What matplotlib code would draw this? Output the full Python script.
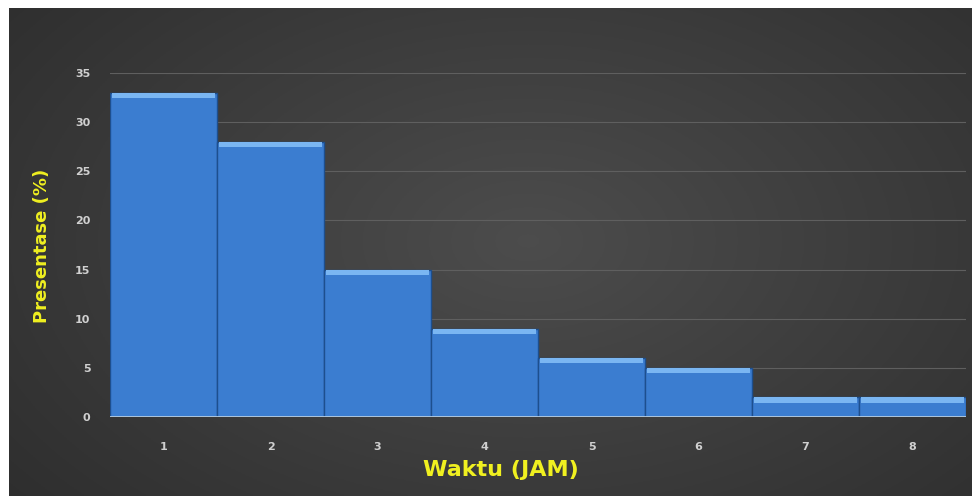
import numpy as np
import matplotlib
matplotlib.use("Agg")
import matplotlib.pyplot as plt

# lama waktu (jam) vs presentase responden
jam = [1, 2, 3, 4, 5, 6, 7, 8]
presentase = [33, 28, 15, 9, 6, 5, 2, 2]
yticks = [0, 5, 10, 15, 20, 25, 30, 35]

W, H = 972, 496
fig = plt.figure(figsize=(W / 100, H / 100), dpi=100)
fig.patch.set_facecolor("white")

############ dark radial background ######################
bg = fig.add_axes([9 / W, 0, 1 - 9 / W, 1 - 8 / H])
yy, xx = np.mgrid[0:200, 0:400]
r = np.sqrt(((xx - 215) / 280.0) ** 2 + ((yy - 95) / 170.0) ** 2)
shade = np.clip(0.30 - 0.12 * r, 0.16, 0.30)
bg.imshow(np.dstack([shade, shade, shade]), aspect="auto", extent=[0, 1, 0, 1])
bg.set_axis_off()

############ bar chart ###################################
ax = fig.add_axes([110 / W, 1 - 417 / H, (966 - 110) / W, (417 - 73) / H])
ax.patch.set_alpha(0)
ax.bar(jam, presentase, width=1.0, color="#3b7dd0", edgecolor="#1d4f8e",
       linewidth=1.0, zorder=3)
# bevelled top edge
ax.bar(jam, [0.55] * len(jam), bottom=[v - 0.55 for v in presentase], width=0.97,
       color="#7ab6f2", linewidth=0, zorder=4)

ax.set_xlim(0.5, 8.5)
ax.set_ylim(0, 35)
ax.set_yticks(yticks)
ax.set_xticks(jam)
ax.grid(axis="y", color="#5f5f5f", linewidth=0.8, zorder=0)
ax.axhline(0, color="#b8cde0", linewidth=2, zorder=5)
for s in ax.spines.values():
    s.set_visible(False)
ax.tick_params(length=0, colors="#d0d0d0", labelsize=8)
ax.tick_params(axis="y", pad=14)
ax.tick_params(axis="x", pad=18)
for lab in ax.get_xticklabels() + ax.get_yticklabels():
    lab.set_fontweight("bold")

fig.text(0.515, 0.052, "Waktu (JAM)", color="#f0f020", fontsize=16,
         fontweight="bold", ha="center", va="center")
fig.text(0.043, 0.505, "Presentase (%)", color="#f0f020", fontsize=13,
         fontweight="bold", ha="center", va="center", rotation=90)

fig.savefig("out.png", dpi=100)
